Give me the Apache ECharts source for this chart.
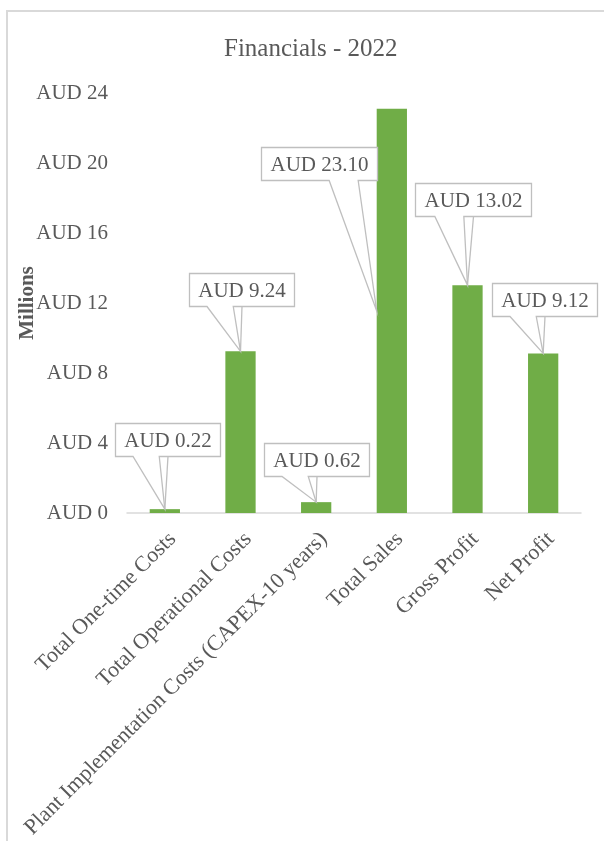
<!DOCTYPE html>
<html><head><meta charset="utf-8">
<script src="https://cdn.jsdelivr.net/npm/echarts@6/dist/echarts.min.js"></script>
<style>html,body{margin:0;padding:0;background:#fff}#c{width:604px;height:841px}</style>
</head><body><div id="c"></div>
<script>
// ---- data ----
const categories = ['Total One-time Costs', 'Total Operational Costs', 'Plant Implementation Costs (CAPEX-10 years)', 'Total Sales', 'Gross Profit', 'Net Profit'];
const values = [0.22, 9.24, 0.62, 23.10, 13.02, 9.12];
const yMin = 0, yMax = 24, yStep = 4;
const currency = 'AUD';
const titleText = 'Financials - 2022';
const yAxisName = 'Millions';

// ---- callout placement (box centre offset from bar top, in px; tip anchor) ----
const calloutLayout = [
  { dx: 2.5, dy: -69.5, tip: 'top' },
  { dx: 1, dy: -62, tip: 'top' },
  { dx: 0, dy: -43, tip: 'top' },
  { dx: -73, dy: 55, tip: 'leftMid' },
  { dx: 5, dy: -86, tip: 'top' },
  { dx: 1.5, dy: -54, tip: 'top' }
];

const FONT = '"Liberation Serif", "Times New Roman", serif';
const TXT = '#595959';
const LABEL_FONT = '21px ' + FONT;
const measureCtx = document.createElement('canvas').getContext('2d');
measureCtx.font = LABEL_FONT;
const fmt = v => currency + ' ' + v.toFixed(2);
const BAR_FRAC = 0.4;

function calloutPoints(l, t, w, h, tx, ty) {
  const r = l + w, b = t + h, cx = l + w / 2, cy = t + h / 2;
  const dxPos = tx - cx, dyPos = ty - cy;
  const dq = dxPos * h / w;
  const dz = Math.abs(dyPos) - Math.abs(dq);
  if (dz > 0) {
    const x1 = l + w * (dxPos > 0 ? 7 : 2) / 12;
    const x2 = l + w * (dxPos > 0 ? 10 : 5) / 12;
    if (dyPos > 0) {
      return [[l, t], [r, t], [r, b], [x2, b], [tx, ty], [x1, b], [l, b]];
    }
    return [[l, t], [x1, t], [tx, ty], [x2, t], [r, t], [r, b], [l, b]];
  } else {
    const y1 = t + h * (dyPos > 0 ? 7 : 2) / 12;
    const y2 = t + h * (dyPos > 0 ? 10 : 5) / 12;
    if (dxPos > 0) {
      return [[l, t], [r, t], [r, y1], [tx, ty], [r, y2], [r, b], [l, b]];
    }
    return [[l, t], [r, t], [r, b], [l, b], [l, y2], [tx, ty], [l, y1]];
  }
}

function renderCallout(params, api) {
  const i = params.dataIndex;
  const v = api.value(1);
  const top = api.coord([api.value(0), v]);
  const base = api.coord([api.value(0), 0]);
  const halfBar = api.size([1, 0])[0] * BAR_FRAC / 2;
  const lay = calloutLayout[i];
  let tx = top[0], ty = top[1];
  if (lay.tip === 'leftMid') { tx = top[0] - halfBar; ty = (top[1] + base[1]) / 2; }
  const text = fmt(values[i]);
  const tw = measureCtx.measureText(text).width;
  const w = Math.round(tw + 18), h = 33;
  const cx = top[0] + lay.dx, cy = top[1] + lay.dy;
  const l = Math.round(cx - w / 2) + 0.5, t = Math.round(cy - h / 2) + 0.5;
  const pts = calloutPoints(l, t, w, h, tx, ty);
  const children = [{
    type: 'polygon', shape: { points: pts },
    style: { fill: '#fff', stroke: '#bfbfbf', lineWidth: 1.3 }
  }];
  const bcx = l + w / 2;
  if (tx > l + 4 && tx < l + w - 4 && ty > t + h) {
    children.push({ type: 'line', shape: { x1: bcx, y1: t + h, x2: tx, y2: ty },
      style: { stroke: '#bfbfbf', lineWidth: 1.3 } });
  }
  children.push({ type: 'text', x: l + w / 2, y: t + h / 2 + 1,
    style: { text: text, font: LABEL_FONT, fill: TXT, align: 'center', verticalAlign: 'middle' } });
  return { type: 'group', children: children };
}

const chart = echarts.init(document.getElementById('c'), null, { renderer: 'canvas' });
chart.setOption({
  animation: false,
  backgroundColor: '#fff',
  graphic: [{
    type: 'rect', z: -10, silent: true,
    shape: { x: 7, y: 11, width: 700, height: 900 },
    style: { fill: 'none', stroke: '#d9d9d9', lineWidth: 2 }
  }],
  title: {
    text: titleText, left: 219, top: 32,
    textStyle: { fontFamily: FONT, fontSize: 25, fontWeight: 'normal', color: TXT }
  },
  grid: { left: 127, right: 23, top: 93, bottom: 328, containLabel: false, outerBoundsMode: 'none' },
  xAxis: {
    type: 'category', data: categories,
    axisLine: { lineStyle: { color: '#d9d9d9', width: 1.5 } },
    axisTick: { show: false },
    axisLabel: { interval: 0, rotate: 45, margin: 15, verticalAlign: 'top', align: 'right',
      fontFamily: FONT, fontSize: 22, color: TXT }
  },
  yAxis: {
    type: 'value', min: yMin, max: yMax, interval: yStep,
    name: yAxisName, nameLocation: 'middle', nameGap: 89, nameMoveOverlap: false,
    nameTextStyle: { fontFamily: FONT, fontSize: 21, fontWeight: 'bold', color: TXT },
    axisLine: { show: false }, axisTick: { show: false },
    splitLine: { show: false },
    axisLabel: { formatter: v => currency + ' ' + v, margin: 19, fontFamily: FONT, fontSize: 21, color: TXT }
  },
  series: [{
    type: 'bar', data: values, barWidth: (BAR_FRAC * 100) + '%',
    itemStyle: { color: '#70AD47' }
  }, {
    type: 'custom', clip: false, z: 5,
    data: values.map((v, i) => [i, v]),
    renderItem: renderCallout
  }]
});
</script></body></html>
